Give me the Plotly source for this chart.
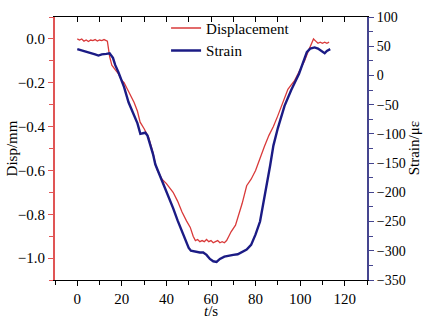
import plotly.graph_objects as go

# Displacement (left axis, mm)
t_disp = [0, 1, 2, 3, 4, 5, 6, 7, 8, 9, 10, 11, 12, 13, 13.5, 14.5, 15.5, 17, 18.5, 20, 21, 22.5, 24, 25.5, 27, 28.2,
          30, 32, 34, 35, 36, 38, 40, 42, 43, 45, 47, 49, 50.7, 52, 53, 54, 55, 56, 57, 58, 59, 60, 61, 62, 63, 64,
          65, 66, 67, 68, 69, 71, 72.5, 74, 76, 78, 80, 82, 84, 86, 88, 90, 92, 93, 94.5, 96, 97.5, 99, 100.5, 102,
          103.5, 105, 106, 107, 108, 109, 110, 111, 112, 113]
disp = [0.0, -0.005, -0.0, -0.01, -0.005, -0.012, -0.005, -0.008, -0.003, -0.01, -0.005, -0.008, -0.003, -0.006,
        -0.01, -0.08, -0.12, -0.14, -0.16, -0.19, -0.2, -0.23, -0.26, -0.29, -0.33, -0.38,
        -0.41, -0.45, -0.52, -0.57, -0.6, -0.64, -0.66, -0.69, -0.70, -0.74, -0.79, -0.83, -0.86, -0.90, -0.92, -0.915,
        -0.925, -0.92, -0.925, -0.915, -0.925, -0.92, -0.93, -0.925, -0.92, -0.93,
        -0.925, -0.93, -0.92, -0.90, -0.88, -0.85, -0.80, -0.75, -0.67, -0.64, -0.60, -0.54, -0.49, -0.44, -0.40, -0.35,
        -0.30, -0.27, -0.23, -0.21, -0.19, -0.16, -0.13, -0.10,
        -0.06, -0.02, 0.0, -0.01, -0.02, -0.015, -0.02, -0.015, -0.02, -0.015]

# Strain (right axis, micro-strain)
t_strain = [0, 2, 4, 6, 8, 9.5, 11, 13, 14.5, 16, 17, 18.5, 20, 21, 23, 25, 27, 28.3, 29.5, 30.5, 31.5, 32.5, 34,
            35, 37, 39, 41, 43, 45, 47, 49, 50, 51, 53, 55, 56.5, 58, 59.5, 61, 62.5, 64, 66, 68, 70, 72, 74, 76,
            78, 80, 82, 84, 86.5, 88, 90, 93, 96, 99.5, 101, 103, 104.5, 106.5, 108, 110, 111, 112, 113.5]
strain = [45, 43, 41, 39, 36, 34, 36, 37, 38, 30, 18, 5, -10, -20, -46, -65, -82, -100, -99, -98, -103, -115, -135,
          -152, -170, -190, -208, -227, -248, -267, -285, -295, -300, -302, -303, -303, -307, -314, -318, -319, -314,
          -310, -308, -307, -306, -302, -298, -290, -272, -250, -210, -155, -120, -90, -52, -25, 3, 20, 40, 46, 48,
          46, 40, 38, 42, 45]

x_ticks = [0, 20, 40, 60, 80, 100, 120]
y1_ticks = [0.0, -0.2, -0.4, -0.6, -0.8, -1.0]
y2_ticks = [100, 50, 0, -50, -100, -150, -200, -250, -300, -350]

RED = "#d93a3a"
NAVY = "#1b1b85"
RED_AX = "#e05555"
NAVY_AX = "#45458f"
FONT = "Liberation Serif"

fig = go.Figure()
fig.add_trace(go.Scatter(x=t_disp, y=disp, mode="lines", name="Displacement",
                         line=dict(color=RED, width=1.3), yaxis="y"))
fig.add_trace(go.Scatter(x=t_strain, y=strain, mode="lines", name="Strain",
                         line=dict(color=NAVY, width=2.4), yaxis="y2"))

fig.update_layout(
    width=424, height=324,
    margin=dict(l=55, r=57, t=10, b=44),
    paper_bgcolor="white", plot_bgcolor="white",
    font=dict(family=FONT, size=15, color="black"),
    showlegend=True,
    legend=dict(x=0.356, y=1.02, xanchor="left", yanchor="top", bgcolor="rgba(0,0,0,0)",
                font=dict(family=FONT, size=15), tracegroupgap=0, itemwidth=30),
    xaxis=dict(range=[-10, 130], tickvals=x_ticks, ticks="outside", ticklen=5, tickcolor="black",
               showline=True, linecolor="black", linewidth=1.2, showgrid=False, zeroline=False,
               minor=dict(dtick=10, tick0=0, ticks="outside", ticklen=4, tickcolor="black"),
               tickfont=dict(family=FONT, size=15)),
    xaxis2=dict(range=[-10, 130], overlaying="x", side="top", showticklabels=False,
                ticks="inside", ticklen=5, tickcolor="black", dtick=10, tick0=0,
                showline=True, linecolor="black", linewidth=1.2, showgrid=False, zeroline=False),
    yaxis=dict(range=[-1.1, 0.1], tickvals=y1_ticks, tickformat=".1f", ticks="outside", ticklen=5,
               tickcolor=RED_AX, showline=True, linecolor=RED_AX, linewidth=2, showgrid=False, zeroline=False,
               minor=dict(dtick=0.1, tick0=0, ticks="outside", ticklen=4, tickcolor=RED_AX),
               tickfont=dict(family=FONT, size=15)),
    yaxis2=dict(range=[-350, 100], tickvals=y2_ticks, overlaying="y", side="right", ticks="outside",
                ticklen=5, tickcolor=NAVY_AX, showline=True, linecolor=NAVY_AX, linewidth=2,
                showgrid=False, zeroline=False,
                minor=dict(dtick=25, tick0=0, ticks="outside", ticklen=4, tickcolor=NAVY_AX),
                tickfont=dict(family=FONT, size=14)),
)
# invisible trace to activate top axis
fig.add_trace(go.Scatter(x=[None], y=[None], xaxis="x2", showlegend=False))

fig.add_annotation(text="Disp/mm", xref="paper", yref="paper", x=-0.138, y=0.5, textangle=-90,
                   showarrow=False, font=dict(family=FONT, size=15), xanchor="center", yanchor="middle")
fig.add_annotation(text="Strain/με", xref="paper", yref="paper", x=1.15, y=0.5, textangle=-90,
                   showarrow=False, font=dict(family=FONT, size=15), xanchor="center", yanchor="middle")
fig.add_annotation(text="<i>t</i>/s", xref="paper", yref="paper", x=0.5, y=-0.1185,
                   showarrow=False, font=dict(family=FONT, size=15), xanchor="center", yanchor="middle")

fig.write_html("out.html")
